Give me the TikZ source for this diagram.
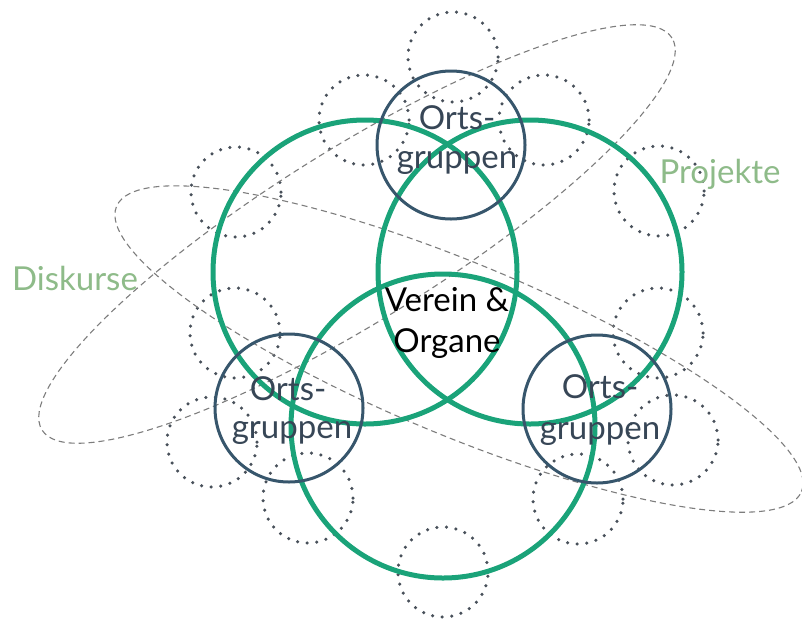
\documentclass[tikz,border=0pt]{standalone}
\usepackage{fontspec}
\setmainfont{Lato}
\usetikzlibrary{shapes.geometric}
\definecolor{ringgreen}{RGB}{26,163,121}
\definecolor{ortsblue}{RGB}{55,86,108}
\definecolor{ortstext}{RGB}{55,70,86}
\definecolor{dotgray}{RGB}{72,80,90}
\definecolor{dashgray}{RGB}{125,125,125}
\definecolor{labelgreen}{RGB}{142,187,137}
\tikzset{
  dotring/.style={circle, draw=dotgray, line width=3.5pt, line cap=round,
    dash pattern=on 0pt off 9.6pt, minimum size=90pt, inner sep=0pt},
  dashell/.style={ellipse, draw=dashgray, line width=1.1pt,
    dash pattern=on 6pt off 4pt, minimum width=742pt, minimum height=172pt, inner sep=0pt},
  greenring/.style={circle, draw=ringgreen, line width=5pt, minimum size=304pt, inner sep=0pt},
  ortsring/.style={circle, draw=ortsblue, line width=3pt, minimum size=148pt, inner sep=0pt},
  ortslabel/.style={anchor=base, inner sep=0pt, text=ortstext, font=\fontsize{33}{39}\selectfont},
  mainlabel/.style={anchor=base, inner sep=0pt, text=black, font=\fontsize{33}{39}\selectfont},
  sidelabel/.style={anchor=base, inner sep=0pt, text=labelgreen, font=\fontsize{33}{39}\selectfont}
}
\begin{document}
\begin{tikzpicture}[x=1pt,y=-1pt]
\useasboundingbox (0,0) rectangle (802,619);
% dotted rings
\node[dotring] (d1) at (453,57) {};
\node[dotring] (d2) at (364,120) {};
\node[dotring] (d3) at (544,120) {};
\node[dotring] (d4) at (236,192) {};
\node[dotring] (d5) at (659,191) {};
\node[dotring] (d6) at (235,333) {};
\node[dotring] (d7) at (658,333) {};
\node[dotring] (d8) at (212,442) {};
\node[dotring] (d9) at (673,440) {};
\node[dotring] (d10) at (308,498) {};
\node[dotring] (d11) at (578,499) {};
\node[dotring] (d12) at (443,572) {};
% dashed ellipses
\node[dashell, rotate=31.9] (e1) at (357,234) {};
\node[dashell, rotate=-22.6] (e2) at (459,349) {};
% green rings
\node[greenring] (g1) at (365,272) {};
\node[greenring] (g2) at (530,272) {};
\node[greenring] (g3) at (443,426) {};
% Ortsgruppen rings
\node[ortsring] (o1) at (451,145) {};
\node[ortsring] (o2) at (289,408) {};
\node[ortsring] (o3) at (597,409) {};
% labels
\node[ortslabel] (o1a) at (457,129) {Orts-};
\node[ortslabel] (o1b) at (457,168) {gruppen};
\node[ortslabel] (o2a) at (288,400) {Orts-};
\node[ortslabel] (o2b) at (292,438) {gruppen};
\node[ortslabel] (o3a) at (600,398) {Orts-};
\node[ortslabel] (o3b) at (600,439) {gruppen};
\node[mainlabel] (v1) at (447,311) {Verein \&};
\node[mainlabel] (v2) at (447,352) {Organe};
\node[sidelabel] (dk) at (75,290) {Diskurse};
\node[sidelabel] (pj) at (720,183) {Projekte};
\end{tikzpicture}
\end{document}
